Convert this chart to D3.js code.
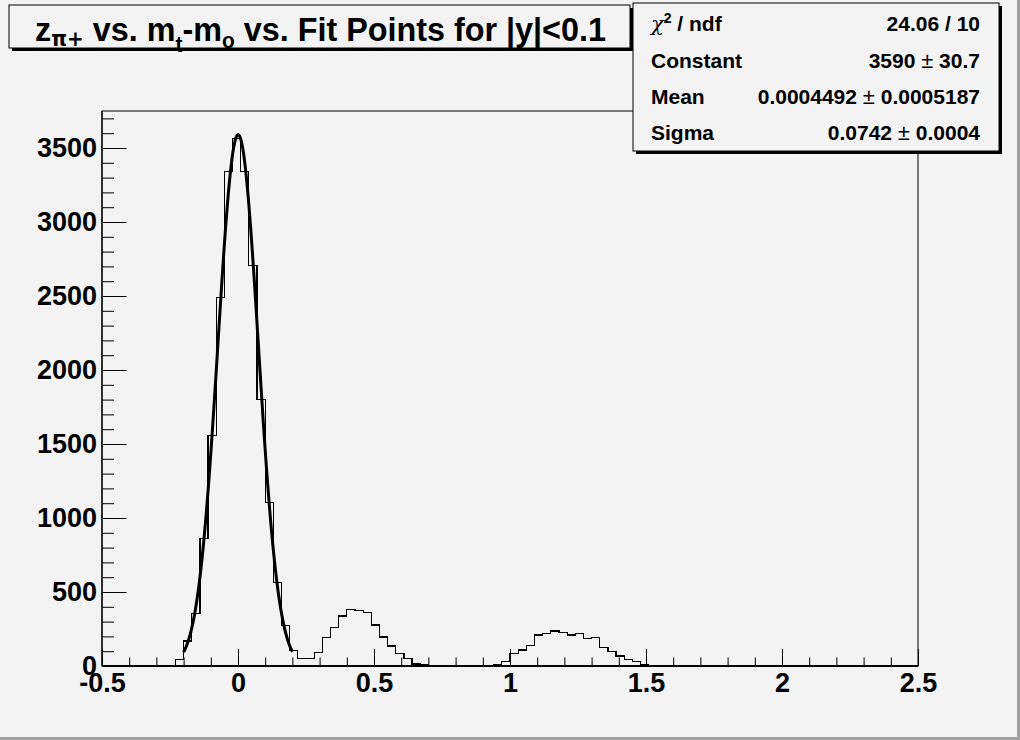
<!DOCTYPE html>
<html>
<head>
<meta charset="utf-8">
<script src="https://cdn.jsdelivr.net/npm/d3@7"></script>
<style>
  html, body { margin: 0; padding: 0; background: #f3f3f3; }
  svg { display: block; }
  text { font-family: "Liberation Sans", Arial, Helvetica, sans-serif; font-weight: bold; fill: #000; }
</style>
</head>
<body>
<script>
// ---------------- DATA ----------------
const xRange = [-0.5, 2.5];          // histogram axis range (100 bins)
const yRange = [0, 3750];
const binCounts = [
  0, 0, 0, 0, 0, 0, 0, 0, 0,
  45, 169, 354, 860, 1558, 2488, 3339, 3565, 3339, 2706, 1801, 1103, 563, 275, 103, 50,
  50, 90, 192, 259, 338, 383, 376, 360, 277, 196, 135, 84, 50, 14, 9, 4,
  0, 0, 0, 0, 0, 0,
  3, 12, 30, 86, 108, 140, 210, 221, 237, 225, 210, 219, 185, 192, 124, 97, 68, 45, 30, 10, 5, 2,
  0, 0, 0, 0, 0, 0, 0, 0, 0, 0, 0, 0, 0, 0, 0, 0, 0, 0, 0, 0, 0, 0, 0, 0, 0, 0, 0, 0, 0, 0, 0
];
const xTickValues = [-0.5, 0, 0.5, 1, 1.5, 2, 2.5];
const xTickLabels = ["-0.5", "0", "0.5", "1", "1.5", "2", "2.5"];
const yTickValues = [0, 500, 1000, 1500, 2000, 2500, 3000, 3500];
const yTickLabels = ["0", "500", "1000", "1500", "2000", "2500", "3000", "3500"];
// Gaussian fit parameters (from the stats box) and fit range
const fitParams = { constant: 3590, mean: 0.0004492, sigma: 0.0742 };
const fitRange = [-0.2, 0.2];
const statsNames = ["χ2 / ndf", "Constant", "Mean", "Sigma"];
const statsValues = [["24.06 / 10"], ["3590", "30.7"], ["0.0004492", "0.0005187"], ["0.0742", "0.0004"]];

// ---------------- LAYOUT ----------------
const W = 1020, H = 740;
const frame = { left: 102, right: 918, top: 111, bottom: 666 };
const bg = "#f3f3f3";

const svg = d3.select("body").append("svg").attr("width", W).attr("height", H);
svg.append("rect").attr("width", W).attr("height", H).attr("fill", bg);
// canvas bevel (right/bottom)
svg.append("rect").attr("x", W - 3).attr("y", 0).attr("width", 3).attr("height", H).attr("fill", "#a0a0a0");
svg.append("rect").attr("x", 0).attr("y", H - 3).attr("width", W).attr("height", 3).attr("fill", "#a0a0a0");

const x = d3.scaleLinear().domain(xRange).range([frame.left, frame.right]);
const y = d3.scaleLinear().domain(yRange).range([frame.bottom, frame.top]);

// frame
svg.append("rect")
  .attr("x", frame.left).attr("y", frame.top)
  .attr("width", frame.right - frame.left).attr("height", frame.bottom - frame.top)
  .attr("fill", bg).attr("stroke", "#000").attr("stroke-width", 1);

// histogram outline (step)
const nb = binCounts.length;
const bw = (xRange[1] - xRange[0]) / nb;
const pts = [[xRange[0], 0]];
binCounts.forEach((c, i) => {
  const lo = xRange[0] + i * bw, hi = lo + bw;
  pts.push([lo, c]); pts.push([hi, c]);
});
pts.push([xRange[1], 0]);
svg.append("path")
  .attr("d", d3.line().x(d => x(d[0])).y(d => y(d[1]))(pts))
  .attr("fill", "none").attr("stroke", "#000").attr("stroke-width", 1.2)
  .attr("shape-rendering", "crispEdges");

// fit curve
const gauss = v => fitParams.constant * Math.exp(-0.5 * Math.pow((v - fitParams.mean) / fitParams.sigma, 2));
const fitPts = d3.range(0, 201).map(i => {
  const v = fitRange[0] + (fitRange[1] - fitRange[0]) * i / 200;
  return [v, gauss(v)];
});
svg.append("path")
  .attr("d", d3.line().x(d => x(d[0])).y(d => y(d[1]))(fitPts))
  .attr("fill", "none").attr("stroke", "#000").attr("stroke-width", 3)
  .attr("stroke-linejoin", "round");

// Y axis
const yMinor = d3.range(0, yRange[1] + 1, 100).filter(v => v % 500 !== 0);
const yAx = svg.append("g").attr("transform", `translate(${frame.left},0)`);
yAx.call(d3.axisLeft(y).tickValues(yMinor).tickSize(-12).tickFormat(""))
  .call(g => g.select(".domain").remove());
const yAxMaj = svg.append("g").attr("transform", `translate(${frame.left},0)`);
yAxMaj.call(d3.axisLeft(y).tickValues(yTickValues).tickSize(-24.5).tickPadding(5)
    .tickFormat((d, i) => yTickLabels[i]))
  .call(g => g.select(".domain").remove());
yAxMaj.selectAll("text").style("font-size", "27px").style("font-family", "'Liberation Sans', Arial, sans-serif")
  .style("font-weight", "bold");
svg.selectAll(".tick line").attr("stroke", "#000").attr("stroke-width", 1);

// X axis
const xMinor = d3.range(-5, 26).map(v => v / 10).filter(v => Math.abs(v * 2 - Math.round(v * 2)) > 1e-6);
const xAx = svg.append("g").attr("transform", `translate(0,${frame.bottom})`);
xAx.call(d3.axisBottom(x).tickValues(xMinor).tickSize(-8.5).tickFormat(""))
  .call(g => g.select(".domain").remove());
const xAxMaj = svg.append("g").attr("transform", `translate(0,${frame.bottom})`);
xAxMaj.call(d3.axisBottom(x).tickValues(xTickValues).tickSize(-17).tickPadding(7)
    .tickFormat((d, i) => xTickLabels[i]))
  .call(g => g.select(".domain").remove());
xAxMaj.selectAll("text").style("font-size", "27px").style("font-family", "'Liberation Sans', Arial, sans-serif")
  .style("font-weight", "bold");
svg.selectAll(".tick line").attr("stroke", "#000").attr("stroke-width", 1);

// axis lines
svg.append("line").attr("x1", frame.left).attr("x2", frame.right).attr("y1", frame.bottom).attr("y2", frame.bottom)
  .attr("stroke", "#000").attr("stroke-width", 2);
svg.append("line").attr("x1", frame.left).attr("x2", frame.left).attr("y1", frame.top).attr("y2", frame.bottom)
  .attr("stroke", "#000").attr("stroke-width", 1.2);

// ---------------- TITLE BOX ----------------
const tb = { x: 9, y: 5, w: 621, h: 43 };
svg.append("rect").attr("x", tb.x + 3).attr("y", tb.y + 3).attr("width", tb.w).attr("height", tb.h).attr("fill", "#000");
svg.append("rect").attr("x", tb.x).attr("y", tb.y).attr("width", tb.w).attr("height", tb.h)
  .attr("fill", bg).attr("stroke", "#000").attr("stroke-width", 1);
const tcx = 320.5;
const title = svg.append("text").attr("x", tcx).attr("y", 41).attr("text-anchor", "middle")
  .style("font-size", "34px");
title.append("tspan").text("z");
title.append("tspan").attr("dy", 5).style("font-size", "21px").style("font-family", "'DejaVu Sans', sans-serif").text("π+");
title.append("tspan").attr("dy", -5).text(" vs. m");
title.append("tspan").attr("dy", 11).style("font-size", "22px").text("t");
title.append("tspan").attr("dy", -11).text("-m");
title.append("tspan").attr("dy", 7).style("font-size", "22px").text("o");
title.append("tspan").attr("dy", -7).text(" vs. Fit Points for |y|<0.1");
const tw = title.node().getBBox().width;
const sx = 571 / tw;
title.attr("transform", `translate(${tcx},0) scale(${sx},1) translate(${-tcx},0)`);

// ---------------- STATS BOX ----------------
const sb = { x: 633, y: 3, w: 366, h: 148 };
svg.append("rect").attr("x", sb.x + 3).attr("y", sb.y + 3).attr("width", sb.w).attr("height", sb.h).attr("fill", "#000");
svg.append("rect").attr("x", sb.x).attr("y", sb.y).attr("width", sb.w).attr("height", sb.h)
  .attr("fill", bg).attr("stroke", "#000").attr("stroke-width", 1);
const rowY = [31, 67.5, 104, 140];
statsNames.forEach((n, i) => {
  const t = svg.append("text").attr("x", 651).attr("y", rowY[i]).style("font-size", "21px");
  if (i === 0) {
    t.append("tspan").style("font-weight", "normal").style("font-family", "'DejaVu Serif', serif").style("font-style", "italic").text("χ");
    t.append("tspan").attr("dy", -8).style("font-size", "14px").text("2");
    t.append("tspan").attr("dy", 8).text(" / ndf");
  } else {
    t.text(n);
  }
});
statsValues.forEach((v, i) => {
  const t = svg.append("text").attr("x", 980).attr("y", rowY[i]).attr("text-anchor", "end").style("font-size", "21px");
  if (v.length === 1) { t.text(v[0]); }
  else {
    t.append("tspan").text(v[0] + " ");
    t.append("tspan").style("font-weight", "normal").style("font-size", "22px").text("±");
    t.append("tspan").text(" " + v[1]);
  }
});
</script>
</body>
</html>
